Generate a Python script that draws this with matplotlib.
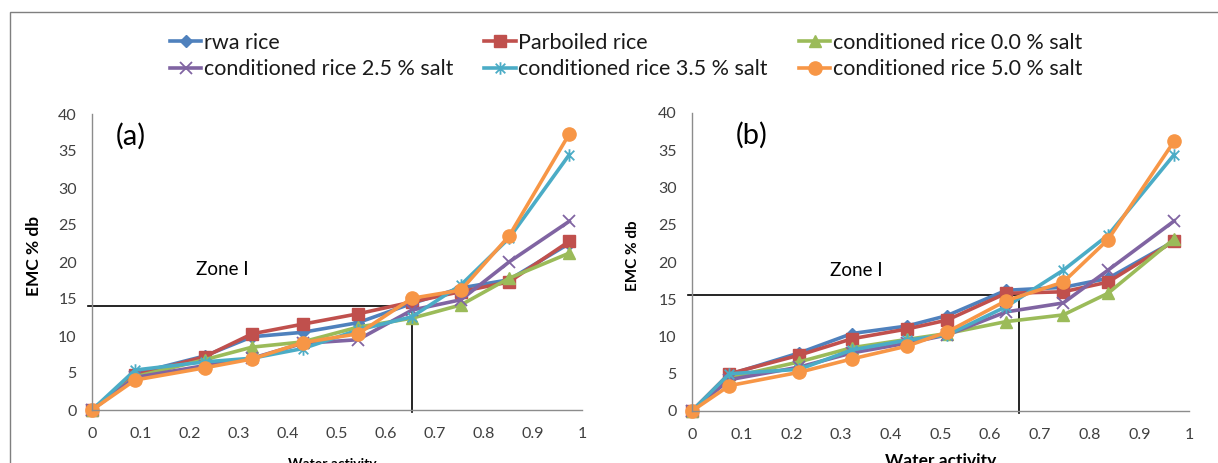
import numpy as np
import matplotlib
matplotlib.use("Agg")
import matplotlib.pyplot as plt
from matplotlib.path import Path
from matplotlib.patches import Rectangle

plt.rcParams["font.family"] = ["Lato", "DejaVu Sans"]

# ---- data ----
series_names = ["rwa rice", "Parboiled rice", "conditioned rice 0.0 % salt",
                "conditioned rice 2.5 % salt", "conditioned rice 3.5 % salt",
                "conditioned rice 5.0 % salt"]

aw_a = [0, 0.088, 0.23, 0.327, 0.43, 0.543, 0.653, 0.753, 0.851, 0.974]
emc_a_rwa = [0, 4.9, 7.3, 9.9, 10.5, 11.8, 14.4, 16.5, 17.6, 22.5]
emc_a_parb = [0, 4.7, 7.2, 10.3, 11.6, 13.0, 14.6, 16.0, 17.3, 22.8]
emc_a_c00 = [0, 4.5, 6.8, 8.5, 9.2, 11.2, 12.4, 14.2, 17.8, 21.2]
emc_a_c25 = [0, 4.4, 6.0, 7.0, 9.0, 9.5, 13.5, 14.9, 20.0, 25.5]
emc_a_c35 = [0, 5.4, 6.5, 7.0, 8.3, 10.8, 12.6, 16.9, 23.2, 34.5]
emc_a_c50 = [0, 4.05, 5.7, 6.9, 9.1, 10.3, 15.1, 16.2, 23.5, 37.3]

aw_b = [0, 0.075, 0.216, 0.322, 0.432, 0.513, 0.632, 0.747, 0.837, 0.970]
emc_b_rwa = [0, 4.9, 7.8, 10.4, 11.4, 12.8, 16.2, 16.6, 17.8, 22.8]
emc_b_parb = [0, 5.0, 7.5, 9.7, 11.0, 12.2, 15.8, 16.0, 17.3, 22.8]
emc_b_c00 = [0, 4.5, 6.6, 8.5, 9.6, 10.4, 12.0, 12.9, 15.8, 23.1]
emc_b_c25 = [0, 4.2, 5.9, 7.8, 9.1, 10.2, 13.3, 14.5, 18.9, 25.5]
emc_b_c35 = [0, 5.0, 5.6, 8.2, 9.5, 10.2, 14.0, 18.9, 23.6, 34.4]
emc_b_c50 = [0, 3.4, 5.2, 7.0, 8.7, 10.6, 14.8, 17.3, 23.0, 36.2]

zone_a = (0.653, 14.05)
zone_b = (0.658, 15.6)

xticks = [0, 0.1, 0.2, 0.3, 0.4, 0.5, 0.6, 0.7, 0.8, 0.9, 1]
xticklabels = ["0", "0.1", "0.2", "0.3", "0.4", "0.5", "0.6", "0.7", "0.8", "0.9", "1"]
yticks = [0, 5, 10, 15, 20, 25, 30, 35, 40]

# ---- styles ----
star = Path([(-1, -1), (1, 1), (-1, 1), (1, -1), (0, -1.3), (0, 1.3)],
            [Path.MOVETO, Path.LINETO, Path.MOVETO, Path.LINETO, Path.MOVETO, Path.LINETO])
styles = [
    dict(color="#4F81BD", marker="D", ms=6.5),
    dict(color="#C0504D", marker="s", ms=9),
    dict(color="#9BBB59", marker="^", ms=9),
    dict(color="#8064A2", marker="x", ms=9, mew=1.3),
    dict(color="#4BACC6", marker=star, ms=9, mew=1.3),
    dict(color="#F79646", marker="o", ms=9.5),
]

fig = plt.figure(figsize=(12.18, 4.63), dpi=100)
W, H = 1218, 463

# outer frame of the chart area
fig.patches.append(Rectangle((10 / W, -0.1), 1.2, (H - 12) / H + 0.1, transform=fig.transFigure,
                             fill=False, edgecolor="#7f7f7f", lw=1.0))

ax_a = fig.add_axes([92 / W, 53 / H, 490 / W, 296 / H])
ax_b = fig.add_axes([692 / W, 52 / H, 497 / W, 298 / H])

panels = [
    (ax_a, aw_a, [emc_a_rwa, emc_a_parb, emc_a_c00, emc_a_c25, emc_a_c35, emc_a_c50], zone_a, 10, 12.5),
    (ax_b, aw_b, [emc_b_rwa, emc_b_parb, emc_b_c00, emc_b_c25, emc_b_c35, emc_b_c50], zone_b, 12.5, 11),
]

handles = []
for ax, aw, ys, zone, xlab_size, ylab_size in panels:
    for name, y, st in zip(series_names, ys, styles):
        ln, = ax.plot(aw, y, lw=2.6, label=name, clip_on=False, **st)
        if ax is ax_a:
            handles.append(ln)
    zx, zy = zone
    ax.plot([-0.008, zx], [zy, zy], color="black", lw=1.2, clip_on=False, zorder=1)
    ax.plot([zx, zx], [zy, -0.3], color="black", lw=1.2, clip_on=False, zorder=1)

    ax.set_xlim(0, 1)
    ax.set_ylim(0, 40)
    ax.set_xticks(xticks)
    ax.set_xticklabels(xticklabels)
    ax.set_yticks(yticks)
    ax.tick_params(length=0, labelsize=11.5, colors="#404040")
    ax.tick_params(axis="x", pad=12)
    ax.tick_params(axis="y", pad=11)
    for s in ["top", "right"]:
        ax.spines[s].set_visible(False)
    for s in ["left", "bottom"]:
        ax.spines[s].set_color("#8c8c8c")
        ax.spines[s].set_linewidth(1.0)
    ax.set_xlabel("Water activity", fontsize=xlab_size, fontweight="bold")
    ax.set_ylabel("EMC % db", fontsize=ylab_size, fontweight="bold")

ax_a.text(0.08, 37.0, "(a)", fontsize=21, ha="center", va="center")
ax_b.text(0.12, 37.0, "(b)", fontsize=21, ha="center", va="center")
ax_a.text(0.265, 19.0, "Zone I", fontsize=13.5, ha="center", va="center")
ax_b.text(0.33, 18.8, "Zone I", fontsize=13.5, ha="center", va="center")

ax_a.xaxis.set_label_coords(0.49, -0.162)
ax_b.xaxis.set_label_coords(0.5, -0.14)
ax_a.yaxis.set_label_coords(-0.102, 0.52)
ax_b.yaxis.set_label_coords(-0.105, 0.52)

order = [0, 3, 1, 4, 2, 5]
leg = fig.legend([handles[i] for i in order], [series_names[i] for i in order],
                 ncol=3, loc="upper left", bbox_to_anchor=(170 / W, 1 - 33 / H),
                 frameon=False, fontsize=15.5, handlelength=1.45, handletextpad=0.12,
                 columnspacing=1.45, labelspacing=0.3, borderpad=0, borderaxespad=0)
for t in leg.get_texts():
    t.set_color("#1a1a1a")

fig.savefig("out.png", dpi=100)
